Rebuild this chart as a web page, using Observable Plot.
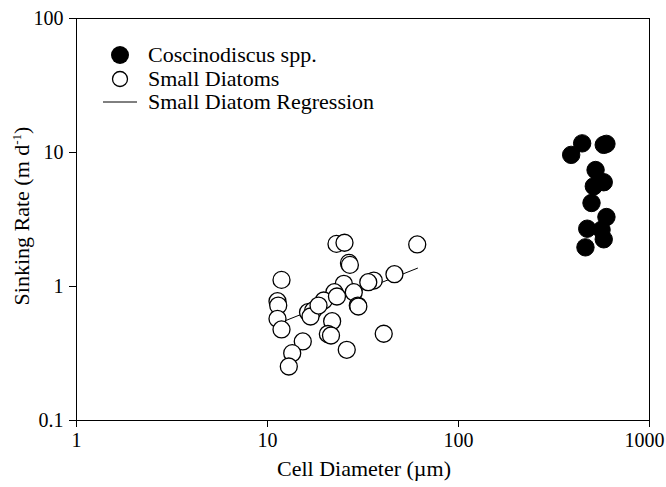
<!DOCTYPE html>
<html>
<head>
<meta charset="utf-8">
<script src="https://cdn.jsdelivr.net/npm/d3@7"></script>
<script src="https://cdn.jsdelivr.net/npm/@observablehq/plot@0.6"></script>
<style>
  html, body { margin: 0; padding: 0; background: #fff; }
  #chart { width: 666px; height: 487px; }
</style>
</head>
<body>
<div id="chart"></div>
<script>
// Coscinodiscus spp. (cell diameter µm, sinking rate m d-1)
const coscDiameter = [444, 389, 576, 595, 522, 576, 511, 497, 595, 472, 561, 576, 462];
const coscRate     = [11.7, 9.6, 11.4, 11.6, 7.4, 6.0, 5.6, 4.2, 3.3, 2.7, 2.65, 2.25, 1.96];

// Small diatoms
const smallDiameter = [22.97, 25.3, 60.8, 26.7, 27.0, 11.84, 46.2, 36.0, 33.7, 25.1,
                       28.3, 22.4, 19.7, 11.28, 11.38, 29.7, 29.9, 16.3, 17.35, 16.8,
                       11.28, 11.84, 21.8, 20.7, 21.5, 15.3, 40.6, 13.47, 26.0, 12.93,
                       23.1, 18.5];
const smallRate     = [2.08, 2.12, 2.06, 1.50, 1.45, 1.12, 1.235, 1.108, 1.077, 1.047,
                       0.907, 0.907, 0.786, 0.777, 0.721, 0.721, 0.709, 0.643, 0.662, 0.597,
                       0.574, 0.478, 0.551, 0.442, 0.431, 0.389, 0.444, 0.318, 0.337, 0.253,
                       0.842, 0.721];

// Small diatom regression line end points
const regDiameter = [12.1, 61];
const regRate     = [0.548, 1.37];

const xTicks = [1, 10, 100, 1000];
const yTicks = [0.1, 1, 10, 100];
const xTickLabels = ["1", "10", "100", "1000"];
const yTickLabels = ["0.1", "1", "10", "100"];

const legendLabels = ["Coscinodiscus spp.", "Small Diatoms", "Small Diatom Regression"];

const cosc = coscDiameter.map((d, i) => ({d, r: coscRate[i]}));
const small = smallDiameter.map((d, i) => ({d, r: smallRate[i]}));
const reg = regDiameter.map((d, i) => ({d, r: regRate[i]}));

const W = 666, H = 487;
const mL = 76, mR = 17, mT = 18, mB = 67;
const font = "Liberation Serif";

const plot = Plot.plot({
  width: W,
  height: H,
  marginLeft: mL,
  marginRight: mR,
  marginTop: mT,
  marginBottom: mB,
  style: {fontFamily: font, fontSize: "20px", color: "#000", background: "#fff"},
  x: {type: "log", domain: [1, 1000]},
  y: {type: "log", domain: [0.1, 100]},
  marks: [
    Plot.frame({stroke: "#000", strokeWidth: 1}),
    Plot.axisX({ticks: xTicks, tickFormat: (d) => xTickLabels[xTicks.indexOf(d)], tickSize: 7, tickPadding: 5,
                fontSize: 20, label: null}),
    Plot.axisY({ticks: yTicks, tickFormat: (d) => yTickLabels[yTicks.indexOf(d)], tickSize: 7, tickPadding: 6,
                fontSize: 20, label: null}),
    Plot.line(reg, {x: "d", y: "r", stroke: "#000", strokeWidth: 1}),
    Plot.dot(small, {x: "d", y: "r", r: 8.5, fill: "#fff", stroke: "#000", strokeWidth: 1.3}),
    Plot.dot(cosc, {x: "d", y: "r", r: 8.7, fill: "#000", stroke: "#000", strokeWidth: 1})
  ]
});

document.getElementById("chart").appendChild(plot);

const svg = d3.select(plot);

// nudge the last x tick label ("1000") inward so it fits, as in the reference
svg.selectAll("text").filter(function() { return this.textContent === "1000"; })
  .attr("dx", -5);

// X axis title
svg.append("text")
  .attr("x", 364)
  .attr("y", 476)
  .attr("text-anchor", "middle")
  .attr("font-family", font)
  .attr("font-size", 22)
  .attr("fill", "#000")
  .text("Cell Diameter (µm)");

// Y axis title with superscript
const yt = svg.append("text")
  .attr("transform", `translate(29,216) rotate(-90)`)
  .attr("text-anchor", "middle")
  .attr("font-family", font)
  .attr("font-size", 22)
  .attr("fill", "#000");
yt.append("tspan").text("Sinking Rate (m d");
yt.append("tspan").attr("font-size", 13).attr("dy", -8).text("-1");
yt.append("tspan").attr("dy", 8).text(")");

// Legend
const lg = svg.append("g").attr("font-family", font).attr("font-size", 22).attr("fill", "#000")
  .attr("text-anchor", "start");
const rows = [55, 79, 102];
lg.append("circle").attr("cx", 120).attr("cy", rows[0]).attr("r", 9).attr("fill", "#000");
lg.append("circle").attr("cx", 120).attr("cy", rows[1]).attr("r", 7.5).attr("fill", "#fff").attr("stroke", "#000").attr("stroke-width", 1.3);
lg.append("line").attr("x1", 103).attr("x2", 137).attr("y1", rows[2]).attr("y2", rows[2]).attr("stroke", "#000").attr("stroke-width", 1);
legendLabels.forEach((t, i) => {
  lg.append("text").attr("x", 148).attr("y", rows[i]).attr("dy", "0.32em").text(t);
});
</script>
</body>
</html>
